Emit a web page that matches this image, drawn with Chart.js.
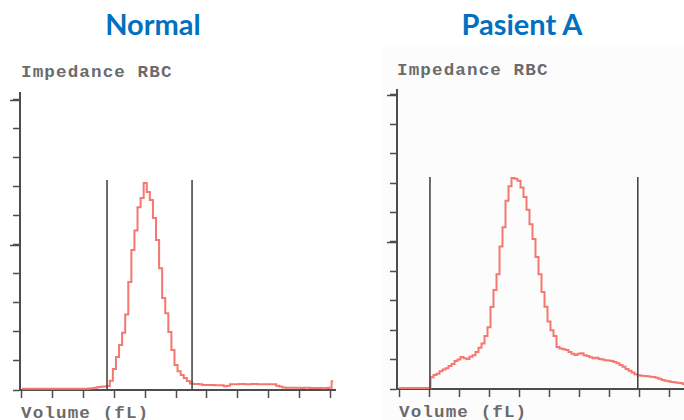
<!DOCTYPE html>
<html>
<head>
<meta charset="utf-8">
<script src="https://cdn.jsdelivr.net/npm/chart.js@4"></script>
<style>
  body { margin: 0; background: #fff; width: 684px; height: 420px; overflow: hidden; position: relative; }
  .title { position: absolute; top: 9px; font: bold 29px Lato, sans-serif; line-height: 29px; color: #0070c0; white-space: nowrap; transform: translateX(-50%); }
  .mono { position: absolute; font: bold 16px "Liberation Mono", monospace; line-height: 16px; color: #6b6b6b; letter-spacing: 1px; white-space: nowrap; transform: scaleX(1.1); transform-origin: left top; }
  canvas { position: absolute; top: 80px; }
  #scan { position: absolute; left: 382px; top: 47px; width: 302px; height: 373px; background: #fcfcfc; }
</style>
</head>
<body>
<div id="scan"></div>
<div class="title" style="left:153px">Normal</div>
<div class="title" style="left:522px">Pasient A</div>
<div class="mono" style="left:21px; top:65px">Impedance RBC</div>
<div class="mono" style="left:397px; top:63px">Impedance RBC</div>
<div class="mono" style="left:21px; top:406px">Volume (fL)</div>
<div class="mono" style="left:399px; top:405px">Volume (fL)</div>
<canvas id="normal" width="342" height="320" style="left:0px"></canvas>
<canvas id="pasient" width="342" height="320" style="left:342px"></canvas>
<script>
// volume channels (fL)
const volumes = [
  0, 2.5, 5, 7.5, 10, 12.5, 15, 17.5, 20, 22.5,
  25, 27.5, 30, 32.5, 35, 37.5, 40, 42.5, 45, 47.5,
  50, 52.5, 55, 57.5, 60, 62.5, 65, 67.5, 70, 72.5,
  75, 77.5, 80, 82.5, 85, 87.5, 90, 92.5, 95, 97.5,
  100, 102.5, 105, 107.5, 110, 112.5, 115, 117.5, 120, 122.5,
  125, 127.5, 130, 132.5, 135, 137.5, 140, 142.5, 145, 147.5,
  150, 152.5, 155, 157.5, 160, 162.5, 165, 167.5, 170, 172.5,
  175, 177.5, 180, 182.5, 185, 187.5, 190, 192.5, 195, 197.5,
  200, 202.5, 205, 207.5, 210, 212.5, 215, 217.5, 220, 222.5,
  225, 227.5, 230, 232.5, 235, 237.5, 240, 242.5, 245, 247.5,
  250, 252.5
];

// relative counts, one per volume channel
const normalCounts = [
  0.04, 0.04, 0.04, 0.04, 0.04, 0.04, 0.04, 0.04, 0.04, 0.04,
  0.04, 0.04, 0.04, 0.04, 0.04, 0.04, 0.04, 0.04, 0.04, 0.04,
  0.04, 0.04, 0.05, 0.06, 0.08, 0.1, 0.11, 0.12, 0.14, 0.32,
  0.72, 1.14, 1.55, 1.97, 2.6, 3.72, 4.83, 5.5, 6.3, 6.62,
  7.14, 6.83, 6.55, 5.93, 5.17, 4.2, 3.17, 2.65, 2.0, 1.38,
  0.86, 0.65, 0.52, 0.41, 0.31, 0.22, 0.21, 0.21, 0.2, 0.17,
  0.17, 0.17, 0.17, 0.16, 0.16, 0.16, 0.13, 0.15, 0.2, 0.2,
  0.2, 0.21, 0.21, 0.2, 0.2, 0.21, 0.21, 0.2, 0.2, 0.2,
  0.2, 0.2, 0.2, 0.15, 0.12, 0.09, 0.08, 0.08, 0.08, 0.08,
  0.08, 0.07, 0.08, 0.08, 0.07, 0.07, 0.07, 0.07, 0.06, 0.07,
  0.08, 0.3
];

const pasientCounts = [
  0.03, 0.03, 0.03, 0.03, 0.03, 0.03, 0.03, 0.03, 0.03, 0.03,
  0.03, 0.4, 0.48, 0.52, 0.6, 0.66, 0.71, 0.78, 0.85, 0.95,
  1.0, 1.09, 1.05, 1.02, 1.1, 1.15, 1.26, 1.4, 1.55, 1.8,
  2.1, 2.79, 3.37, 3.9, 4.85, 5.5, 6.4, 6.9, 7.18, 7.15,
  7.08, 6.85, 6.53, 6.1, 5.6, 5.1, 4.49, 3.9, 3.3, 2.8,
  2.3, 2.0, 1.8, 1.43, 1.38, 1.35, 1.33, 1.26, 1.2, 1.16,
  1.2, 1.22, 1.15, 1.12, 1.08, 1.05, 1.06, 1.02, 1.0, 0.98,
  0.97, 0.95, 0.92, 0.88, 0.82, 0.76, 0.68, 0.62, 0.56, 0.5,
  0.47, 0.45, 0.44, 0.43, 0.42, 0.41, 0.38, 0.35, 0.31, 0.28,
  0.26, 0.24, 0.23, 0.21, 0.2, 0.17
];

// discriminator lines (fL) and their height
const normalGates = [69, 138];
const normalGateTop = 7.24;
const pasientGates = [25.8, 199];
const pasientGateTop = 7.21;

const xTicks = [0, 25, 50, 75, 100, 125, 150, 175, 200, 225, 250];
const yTicks = [0, 1, 2, 3, 4, 5, 6, 7, 8, 9, 10];
const longYTicks = [5, 10];

const axisColor = '#4d4d4d';
const curveColor = '#f4786f';

// the y axis has a few longer marks
const longTicks = {
  id: 'longTicks',
  afterDraw(chart) {
    const ctx = chart.ctx;
    const y = chart.scales.y;
    const left = chart.chartArea.left;
    ctx.save();
    ctx.strokeStyle = axisColor;
    ctx.lineWidth = 1.5;
    longYTicks.forEach(v => {
      const py = Math.round(y.getPixelForValue(v)) + 0.5;
      ctx.beginPath();
      ctx.moveTo(left - 10, py);
      ctx.lineTo(left, py);
      ctx.stroke();
    });
    ctx.restore();
  }
};

function gateDataset(x, top) {
  return {
    data: [{ x: x, y: 0 }, { x: x, y: top }],
    borderColor: '#474747',
    borderWidth: 1.6,
    pointRadius: 0
  };
}

function makeChart(id, counts, gates, gateTop, box) {
  const curve = counts.map((c, i) => ({ x: volumes[i], y: c }));
  const datasets = gates.map(g => gateDataset(g, gateTop));
  datasets.push({
    data: curve,
    borderColor: curveColor,
    borderWidth: 2,
    pointRadius: 0,
    stepped: 'middle'
  });

  return new Chart(document.getElementById(id), {
    type: 'line',
    data: { datasets: datasets },
    options: {
      responsive: false,
      animation: false,
      layout: { padding: box.padding },
      plugins: { legend: { display: false }, tooltip: { enabled: false } },
      scales: {
        x: {
          type: 'linear',
          min: box.xMin, max: box.xMax,
          ticks: { display: false, stepSize: 25 },
          afterBuildTicks: s => { s.ticks = xTicks.filter(v => v <= s.max).map(v => ({ value: v })); },
          afterFit: s => { s.height = 10; },
          grid: { drawOnChartArea: false, drawTicks: true, tickLength: 8, tickColor: axisColor, tickWidth: 1.5 },
          border: { color: axisColor, width: 2 }
        },
        y: {
          min: 0, max: box.yMax,
          ticks: { display: false, stepSize: 1 },
          afterBuildTicks: s => { s.ticks = yTicks.map(v => ({ value: v })); },
          afterFit: s => { s.width = box.yWidth; },
          grid: { drawOnChartArea: false, drawTicks: true, tickLength: 7, tickColor: axisColor, tickWidth: 1.5 },
          border: { color: axisColor, width: 2 }
        }
      }
    },
    plugins: [longTicks]
  });
}

makeChart('normal', normalCounts, normalGates, normalGateTop, {
  padding: { left: 0, top: 13, right: 7, bottom: 0 },
  yWidth: 20, xMin: -1.62, xMax: 254, yMax: 10.24
});

makeChart('pasient', pasientCounts, pasientGates, pasientGateTop, {
  padding: { left: 0, top: 10, right: 0, bottom: 1 },
  yWidth: 55, xMin: -1.67, xMax: 237.5, yMax: 10.17
});
</script>
</body>
</html>
